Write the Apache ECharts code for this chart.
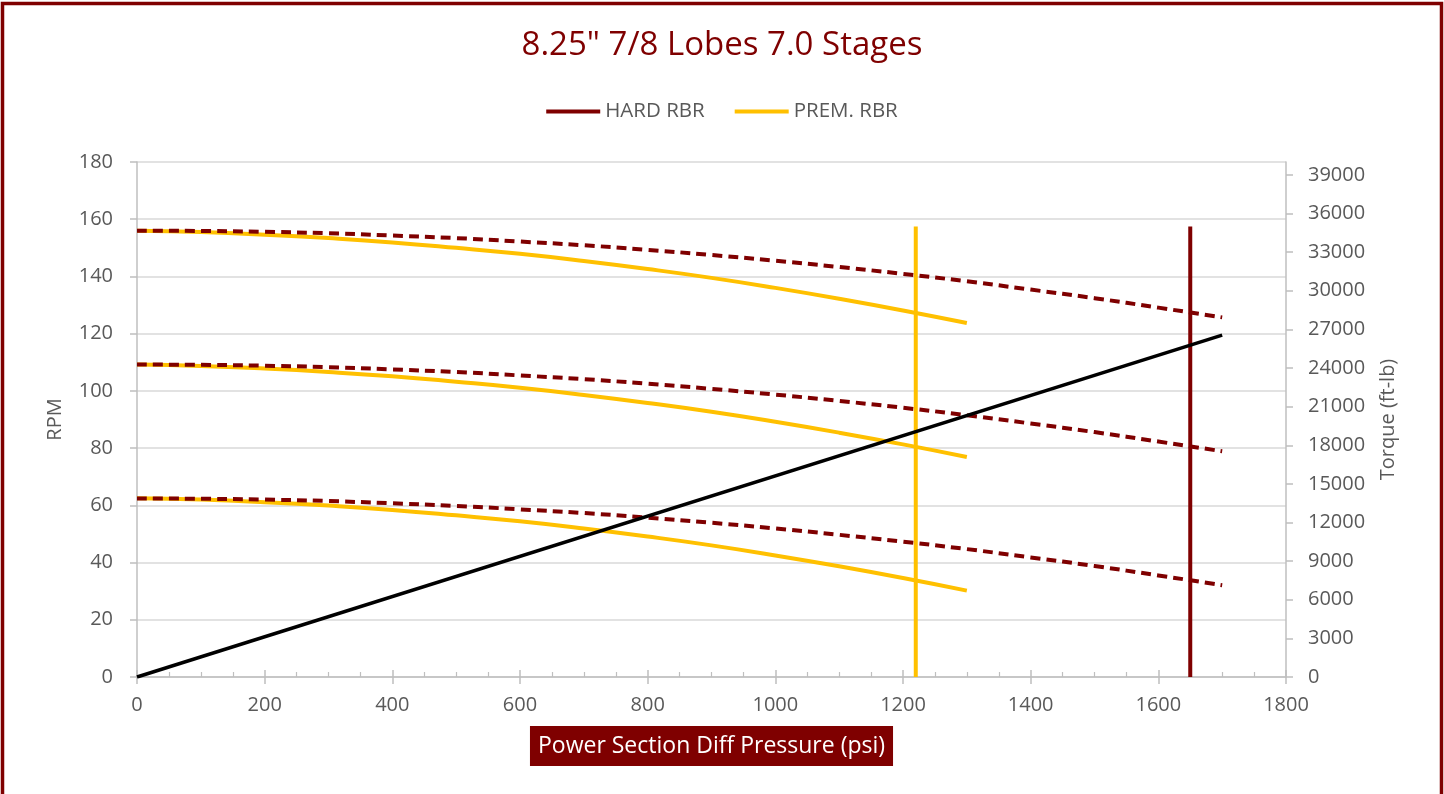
<!DOCTYPE html>
<html lang="en">
<head>
    <meta charset="UTF-8">
    <title>8.25" 7/8 Lobes 7.0 Stages</title>
    <style>
        html, body { margin: 0; padding: 0; background: #fff; }
        #main { width: 1444px; height: 794px; }
    </style>
</head>
<body>
    <div id="main"></div>
    <script src="https://cdn.jsdelivr.net/npm/echarts@6/dist/echarts.min.js"></script>
    <script>
        // pressure steps (psi)
        var hardPressure = [0, 100, 200, 300, 400, 500, 600, 700, 800, 900, 1000, 1100, 1200, 1300, 1400, 1500, 1600, 1700];
        var premPressure = [0, 100, 200, 300, 400, 500, 600, 700, 800, 900, 1000, 1100, 1200, 1300];

        // RPM - hard rubber (dashed)
        var hardHigh = [156.0, 155.9, 155.6, 155.1, 154.3, 153.4, 152.2, 150.9, 149.3, 147.5, 145.5, 143.3, 140.9, 138.3, 135.4, 132.4, 129.1, 125.7];
        var hardMid  = [109.2, 109.1, 108.8, 108.3, 107.5, 106.6, 105.4, 104.1, 102.5, 100.7, 98.7, 96.5, 94.1, 91.5, 88.6, 85.6, 82.3, 78.9];
        var hardLow  = [62.4, 62.3, 62.0, 61.5, 60.7, 59.8, 58.6, 57.3, 55.7, 53.9, 51.9, 49.7, 47.3, 44.7, 41.8, 38.8, 35.5, 32.1];

        // RPM - premium rubber
        var premHigh = [156.0, 155.5, 154.6, 153.4, 151.9, 150.0, 147.9, 145.4, 142.6, 139.5, 136.0, 132.2, 128.1, 123.7];
        var premMid  = [109.2, 108.7, 107.8, 106.6, 105.1, 103.2, 101.1, 98.6, 95.8, 92.7, 89.2, 85.4, 81.3, 76.9];
        var premLow  = [62.5, 62.0, 61.1, 59.9, 58.4, 56.5, 54.4, 51.9, 49.1, 46.0, 42.5, 38.7, 34.6, 30.2];

        // torque line (ft-lb)
        var torquePressure = [0, 1700];
        var torque = [0, 26550];

        // max diff pressure markers
        var hardLimit = 1650;
        var premLimit = 1220;
        var limitTop = 35000;

        var legendNames = ['HARD RBR', 'PREM. RBR'];

        var RED = '#7f0000';
        var YELLOW = '#ffc000';
        var GREY = '#595959';
        var AXIS = '#bfbfbf';
        var FONT = 'Open Sans';

        function pairs(xs, ys) {
            return xs.map(function (x, i) { return [x, ys[i]]; });
        }

        function plain(v) {
            return String(v);
        }

        function curve(name, xs, ys, color, dashed) {
            return {
                name: name,
                type: 'line',
                data: pairs(xs, ys),
                showSymbol: false,
                smooth: true,
                lineStyle: { color: color, width: 4, type: dashed ? [10, 6] : 'solid' },
                itemStyle: { color: color },
                z: dashed ? 3 : 2
            };
        }

        function marker(name, x, color) {
            return {
                name: name,
                type: 'line',
                yAxisIndex: 1,
                data: [[x, 0], [x, limitTop]],
                showSymbol: false,
                lineStyle: { color: color, width: 4 },
                itemStyle: { color: color },
                z: 4
            };
        }

        var option = {
            animation: false,
            backgroundColor: '#fff',
            textStyle: { fontFamily: FONT },
            title: {
                text: '8.25" 7/8 Lobes 7.0 Stages',
                left: 'center',
                top: 24,
                textStyle: { color: RED, fontSize: 33, fontWeight: 'normal', fontFamily: FONT }
            },
            legend: {
                data: legendNames,
                top: 96,
                left: 'center',
                icon: 'rect',
                itemWidth: 54,
                itemHeight: 4,
                itemGap: 30,
                textStyle: { color: GREY, fontSize: 20.5, fontFamily: FONT }
            },
            graphic: [{
                type: 'rect',
                silent: true,
                shape: { x: 2.5, y: 3.5, width: 1439, height: 900 },
                style: { fill: 'none', stroke: RED, lineWidth: 3.5 }
            }],
            grid: { left: 137, right: 158, top: 162, bottom: 117 },
            xAxis: [{
                type: 'value',
                min: 0,
                max: 1800,
                interval: 200,
                name: 'Power Section Diff Pressure (psi)',
                nameLocation: 'middle',
                nameGap: 49,
                nameTextStyle: {
                    color: '#fff',
                    fontSize: 23,
                    fontFamily: FONT,
                    backgroundColor: RED,
                    padding: [9, 8, 8, 8]
                },
                axisLine: { show: true, onZero: false, lineStyle: { color: AXIS, width: 1.5 } },
                axisTick: { show: true, length: 7, lineStyle: { color: AXIS, width: 1.5 } },
                axisLabel: { color: GREY, fontSize: 20, margin: 18, formatter: plain },
                splitLine: { show: false }
            }, {
                // second copy of the x axis: ticks pointing into the plot, with minor ticks
                type: 'value',
                position: 'bottom',
                min: 0,
                max: 1800,
                interval: 200,
                axisLine: { show: false, onZero: false },
                axisTick: { show: true, inside: true, length: 7, lineStyle: { color: AXIS, width: 1.5 } },
                minorTick: { show: true, splitNumber: 4, length: 5, lineStyle: { color: AXIS, width: 1.2 } },
                axisLabel: { show: false },
                splitLine: { show: false }
            }],
            yAxis: [{
                type: 'value',
                min: 0,
                max: 180,
                interval: 20,
                name: 'RPM',
                nameLocation: 'middle',
                nameGap: 72,
                nameTextStyle: { color: GREY, fontSize: 20, fontFamily: FONT },
                axisLine: { show: true, onZero: false, lineStyle: { color: AXIS, width: 1.5 } },
                axisTick: { show: true, length: 7, lineStyle: { color: AXIS, width: 1.5 } },
                axisLabel: { color: GREY, fontSize: 20, margin: 24, formatter: plain },
                splitLine: { show: true, lineStyle: { color: '#d9d9d9', width: 1.5 } }
            }, {
                type: 'value',
                position: 'right',
                min: 0,
                max: 40000,
                interval: 3000,
                name: 'Torque (ft-lb)',
                nameLocation: 'middle',
                nameGap: 92,
                nameTextStyle: { color: GREY, fontSize: 20, fontFamily: FONT },
                axisLine: { show: true, onZero: false, lineStyle: { color: AXIS, width: 1.5 } },
                axisTick: { show: true, length: 7, lineStyle: { color: AXIS, width: 1.5 } },
                axisLabel: { color: GREY, fontSize: 20, margin: 22, showMaxLabel: false, formatter: plain },
                splitLine: { show: false }
            }],
            series: [
                curve('PREM. RBR', premPressure, premHigh, YELLOW, false),
                curve('PREM. RBR', premPressure, premMid, YELLOW, false),
                curve('PREM. RBR', premPressure, premLow, YELLOW, false),
                curve('HARD RBR', hardPressure, hardHigh, RED, true),
                curve('HARD RBR', hardPressure, hardMid, RED, true),
                curve('HARD RBR', hardPressure, hardLow, RED, true),
                {
                    name: 'Torque',
                    type: 'line',
                    yAxisIndex: 1,
                    data: pairs(torquePressure, torque),
                    showSymbol: false,
                    lineStyle: { color: '#000', width: 3.5 },
                    itemStyle: { color: '#000' },
                    z: 5
                },
                marker('PREM. RBR', premLimit, YELLOW),
                marker('HARD RBR', hardLimit, RED)
            ]
        };

        var myChart = echarts.init(document.getElementById('main'));
        myChart.setOption(option);
    </script>
</body>
</html>
